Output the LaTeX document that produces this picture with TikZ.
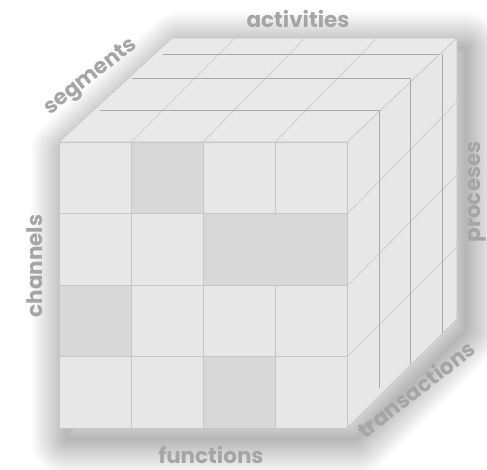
\documentclass[tikz,border=0pt]{standalone}
\usepackage{fontspec}
\setmainfont{Poppins}
\usetikzlibrary{positioning}
\definecolor{facegray}{HTML}{E7E7E7}
\definecolor{topgray}{HTML}{E9E9E9}
\definecolor{cellgray}{HTML}{D8D8D8}
\definecolor{gridgray}{HTML}{C6C6C6}
\definecolor{slabgray}{HTML}{A9A9A9}
\definecolor{labelgray}{HTML}{A5A5A5}

\begin{document}
\begin{tikzpicture}[
    x=1pt, y=-1pt,
    face/.style={fill=facegray, draw=gridgray, line width=0.6pt, line join=round},
    darkcell/.style={fill=cellgray},
    gridline/.style={draw=gridgray, line width=0.6pt},
    slabline/.style={draw=slabgray, line width=0.9pt},
    axislabel/.style={text=labelgray, font=\fontsize{21.5}{21.5}\selectfont\bfseries, inner sep=0pt, anchor=base},
]
    \useasboundingbox[fill=white] (0,0) rectangle (487,469);

    % soft shadow round the cube
    \foreach \w in {2,4,...,72}
        \draw[black, opacity=0.008, line width=\w pt, line join=round]
            (67,152) -- (180,48) -- (466,48) -- (466,330) -- (356,439) -- (67,439) -- cycle;

    % corners of the cube
    \coordinate (ftl) at (59,142);
    \coordinate (ftr) at (347,142);
    \coordinate (fbr) at (347,428);
    \coordinate (btl) at (172,38);
    \coordinate (btr) at (457,38);
    \coordinate (bbr) at (457,319);

    % top face
    \path[face, fill=topgray] (ftl) -- (btl) -- (btr) -- (ftr) -- cycle;
    \draw[gridline] (131,142) -- (235,38) (203,142) -- (305,38) (275,142) -- (377,38);
    \draw[slabline] (100,110) -- (379,110) (132,78) -- (410,78) (163,54) -- (442,54);

    % right face
    \path[face] (ftr) -- (btr) -- (bbr) -- (fbr) -- cycle;
    \draw[gridline] (347,214) -- (457,102) (347,286) -- (457,175) (347,357) -- (457,247);
    \draw[slabline] (379,110) -- (379,388) (410,78) -- (410,364) (442,54) -- (442,333);

    % front face
    \path[face] (ftl) rectangle (fbr);
    \foreach \c/\r in {1/0, 0/2, 2/3}
        \fill[darkcell] (59+72*\c,142+71.5*\r) rectangle ++(72,71.5);
    \fill[darkcell] (203,213.5) rectangle (347,285);
    \draw[gridline] (131,142) -- (131,428) (203,142) -- (203,428)
        (275,142) -- (275,213.5) (275,285) -- (275,428);
    \foreach \r in {1,2,3}
        \draw[gridline] (59,142+71.5*\r) -- (347,142+71.5*\r);
    \draw[gridline] (ftl) rectangle (fbr);

    % labels
    \node[axislabel] (activities) at (298,27) {activities};
    \node[axislabel, rotate=38] (segments) at (94,81) {segments};
    \node[axislabel, rotate=90] (channels) at (42,266) {channels};
    \node[axislabel, rotate=90] (proceses) at (480,192) {proceses};
    \node[axislabel] (functions) at (211,463) {functions};
    \node[axislabel, rotate=38] (transactions) at (421,396) {transactions};
\end{tikzpicture}
\end{document}
